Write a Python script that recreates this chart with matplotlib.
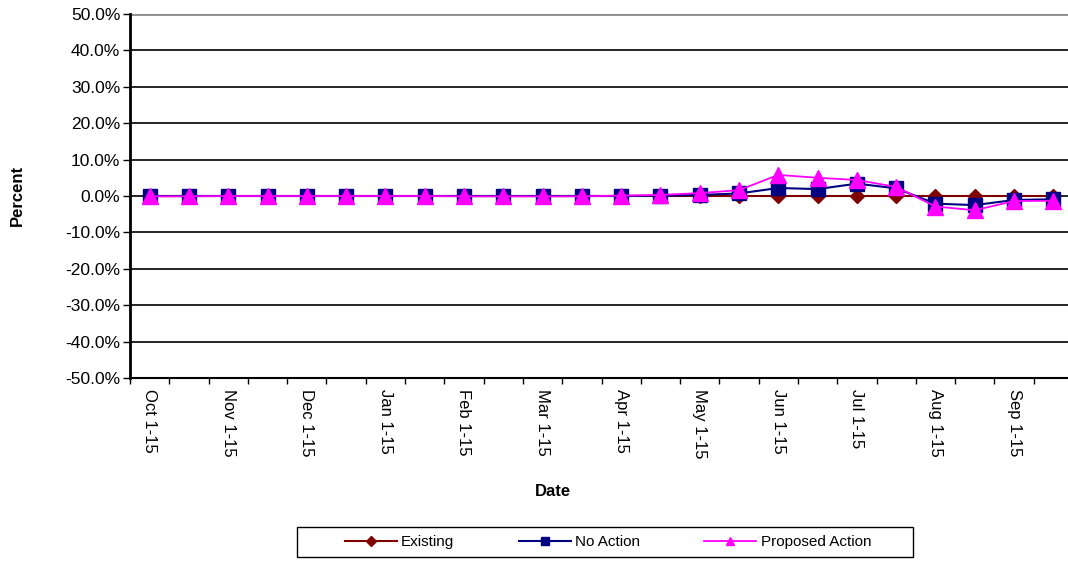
import matplotlib.pyplot as plt
from matplotlib.patches import Rectangle
from matplotlib.lines import Line2D

plt.rcParams['font.family'] = ['Liberation Sans', 'DejaVu Sans']

# half-month periods, Oct through Sep
categories = ["Oct 1-15", "Oct 16-31", "Nov 1-15", "Nov 16-30", "Dec 1-15", "Dec 16-31",
              "Jan 1-15", "Jan 16-31", "Feb 1-15", "Feb 16-28", "Mar 1-15", "Mar 16-31",
              "Apr 1-15", "Apr 16-30", "May 1-15", "May 16-31", "Jun 1-15", "Jun 16-30",
              "Jul 1-15", "Jul 16-31", "Aug 1-15", "Aug 16-31", "Sep 1-15", "Sep 16-30"]

# percent change
existing = [0.0] * 24
no_action = [0.0, 0.0, 0.0, 0.0, 0.0, 0.0, 0.0, 0.0, 0.0, 0.0, 0.0, 0.0,
             0.0, 0.1, 0.3, 0.7, 2.2, 1.9, 3.4, 2.1, -2.1, -2.5, -1.1, -0.9]
proposed = [-0.1, -0.1, 0.0, 0.0, 0.0, 0.0, 0.0, 0.0, -0.1, -0.1, -0.1, -0.1,
            0.1, 0.3, 0.8, 1.6, 5.8, 5.0, 4.4, 2.5, -2.9, -3.9, -1.4, -1.3]

y_ticks = [-50, -40, -30, -20, -10, 0, 10, 20, 30, 40, 50]

W, H = 1068, 570
fig = plt.figure(figsize=(W / 100, H / 100), dpi=100)
ax = fig.add_axes([130 / W, 1 - 378 / H, 943 / W, 364 / H])

x = list(range(len(categories)))
ax.plot(x, existing, color='#800000', lw=1.5, marker='D', ms=7, zorder=3)
ax.plot(x, no_action, color='#000080', lw=1.5, marker='s', ms=9.5, zorder=4)
ax.plot(x, proposed, color='#FF00FF', lw=1.3, marker='^', ms=11, zorder=5)

ax.set_xlim(-0.5, len(categories) - 0.5)
ax.set_ylim(-50, 50)
ax.set_yticks(y_ticks)
ax.set_yticklabels([f"{v:.1f}%" for v in y_ticks], fontsize=12.5)
ax.tick_params(axis='y', length=5, width=1, pad=2, direction='out')

ax.set_xticks(x)
ax.set_xticklabels([c if "1-15" in c else "" for c in categories],
                   rotation=270, fontsize=12, va='top', ha='center')
ax.tick_params(axis='x', which='major', length=0, pad=8)
ax.set_xticks([i - 0.5 for i in range(len(categories) + 1)], minor=True)
ax.tick_params(axis='x', which='minor', length=4, width=1, direction='out')

ax.yaxis.grid(True, color='black', lw=1.2)
ax.set_axisbelow(True)
ax.get_ygridlines()[-1].set_color('#8c8c8c')
ax.get_ygridlines()[-1].set_linewidth(2)

for s in ['top', 'right']:
    ax.spines[s].set_visible(False)
ax.spines['left'].set_linewidth(2)
ax.spines['bottom'].set_linewidth(1.5)

fig.text(17 / W, 1 - 195 / H, "Percent", rotation=90, fontsize=12, fontweight='bold',
         ha='center', va='center')
fig.text(553 / W, 1 - 492 / H, "Date", fontsize=12, fontweight='bold',
         ha='center', va='center')

# legend with a plain box
fig.patches.append(Rectangle((297 / W, 1 - 557 / H), 616 / W, 30 / H,
                             transform=fig.transFigure, fill=False, ec='black', lw=1))
handles = [Line2D([], [], color='#800000', lw=1.5, marker='D', ms=5),
           Line2D([], [], color='#000080', lw=1.5, marker='s', ms=6),
           Line2D([], [], color='#FF00FF', lw=1.3, marker='^', ms=6)]
fig.legend(handles, ["Existing", "No Action", "Proposed Action"], ncol=3,
           loc='center', bbox_to_anchor=(608 / W, 1 - 542 / H), frameon=False,
           fontsize=11, handlelength=3.4, handletextpad=0.3, columnspacing=4.2)

fig.savefig("out.png", dpi=100)
